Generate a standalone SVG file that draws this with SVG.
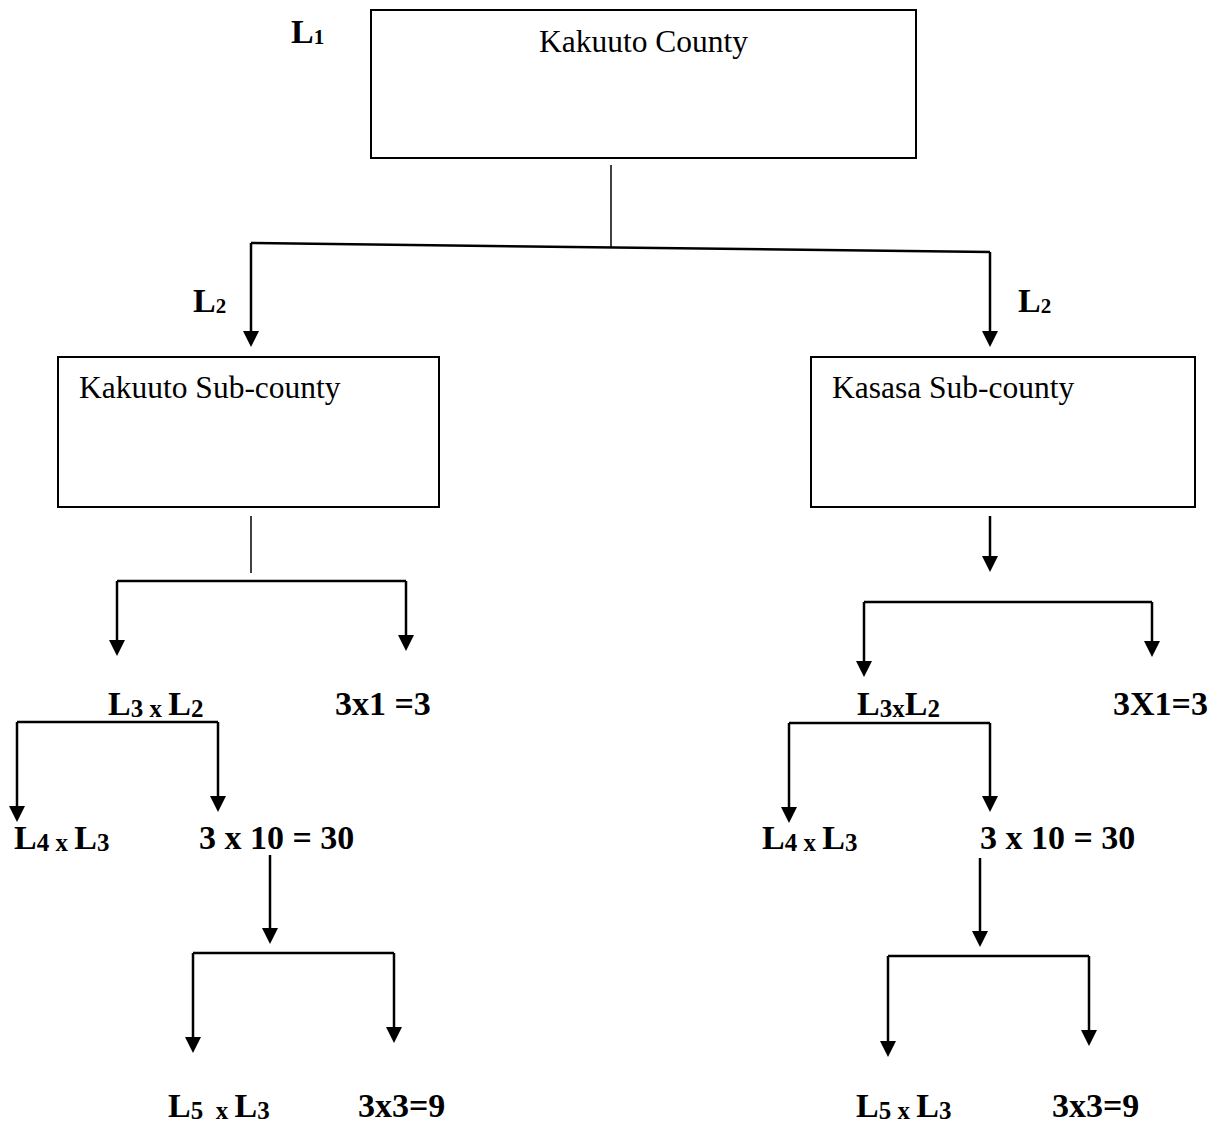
<svg xmlns="http://www.w3.org/2000/svg" width="1218" height="1127" viewBox="0 0 1218 1127">
<style>
text{font-family:"Liberation Serif","Times New Roman",serif;fill:#000;white-space:pre}
.r{font-size:31.5px}
.b{font-size:34px;font-weight:bold}
.s{font-size:25px}
.t{font-size:21px}
.box{fill:#fff;stroke:#000;stroke-width:2}
.ln{fill:none;stroke:#000;stroke-width:2.5}
.thin{fill:none;stroke:#000;stroke-width:1.5}
.ar{fill:none;stroke:#000;stroke-width:2.5;marker-end:url(#ah)}
</style>
<defs>
<marker id="ah" viewBox="0 0 16 16" refX="5" refY="8" markerWidth="16" markerHeight="16" markerUnits="userSpaceOnUse" orient="auto">
<path d="M0,0 L16,8 L0,16 Z" fill="#000"/>
</marker>
</defs>
<g id="connectors">
<path class="thin" d="M611,165 L611,247"/>
<path class="ln" d="M251,243 L990,252"/>
<path class="ar" d="M251,243 L251,336"/>
<path class="ar" d="M990,252 L990,336"/>
<path class="thin" d="M251,516 L251,573"/>
<path class="ln" d="M117,581 L406,581"/>
<path class="ar" d="M117,581 L117,645"/>
<path class="ar" d="M406,581 L406,640"/>
<path class="ln" d="M17,722 L218,722"/>
<path class="ar" d="M17,722 L17,811"/>
<path class="ar" d="M218,722 L218,801"/>
<path class="ar" d="M270,855 L270,933"/>
<path class="ln" d="M193,953 L394,953"/>
<path class="ar" d="M193,953 L193,1042"/>
<path class="ar" d="M394,953 L394,1032"/>
<path class="ar" d="M990,516 L990,561"/>
<path class="ln" d="M864,602 L1152,602"/>
<path class="ar" d="M864,602 L864,666"/>
<path class="ar" d="M1152,602 L1152,646"/>
<path class="ln" d="M789,723 L990,723"/>
<path class="ar" d="M789,723 L789,812"/>
<path class="ar" d="M990,723 L990,801"/>
<path class="ar" d="M980,858 L980,936"/>
<path class="ln" d="M888,956 L1089,956"/>
<path class="ar" d="M888,956 L888,1046"/>
<path class="ar" d="M1089,956 L1089,1035"/>
</g>
<g id="label-L1"><text class="b" x="291" y="43">L<tspan class="t" y="44">1</tspan></text></g>
<g id="node-county">
<rect class="box" x="371" y="10" width="545" height="148"/>
<text class="r" x="539" y="52">Kakuuto County</text>
</g>
<g id="label-L2-left"><text class="b" x="193" y="312">L<tspan class="t" y="313">2</tspan></text></g>
<g id="label-L2-right"><text class="b" x="1018" y="312">L<tspan class="t" y="313">2</tspan></text></g>
<g id="node-kakuuto-sub">
<rect class="box" x="58" y="357" width="381" height="150"/>
<text class="r" x="79" y="398">Kakuuto Sub-county</text>
</g>
<g id="node-kasasa-sub">
<rect class="box" x="811" y="357" width="384" height="150"/>
<text class="r" x="832" y="398">Kasasa Sub-county</text>
</g>
<g id="left-L3L2"><text class="b" x="108" y="715">L<tspan class="s" y="717">3 x </tspan><tspan y="715">L</tspan><tspan class="s" y="717">2</tspan></text></g>
<g id="left-3x1"><text class="b" x="335" y="715">3x1 =3</text></g>
<g id="left-L4L3"><text class="b" x="14" y="849">L<tspan class="s" y="851">4 x </tspan><tspan y="849">L</tspan><tspan class="s" y="851">3</tspan></text></g>
<g id="left-3x10"><text class="b" x="199" y="849">3 x 10 = 30</text></g>
<g id="left-L5L3"><text class="b" x="168" y="1117">L<tspan class="s" y="1119">5  x </tspan><tspan y="1117">L</tspan><tspan class="s" y="1119">3</tspan></text></g>
<g id="left-3x3"><text class="b" x="358" y="1117">3x3=9</text></g>
<g id="right-L3L2"><text class="b" x="857" y="715">L<tspan class="s" y="717">3x</tspan><tspan y="715">L</tspan><tspan class="s" y="717">2</tspan></text></g>
<g id="right-3X1"><text class="b" x="1113" y="715">3X1=3</text></g>
<g id="right-L4L3"><text class="b" x="762" y="849">L<tspan class="s" y="851">4 x </tspan><tspan y="849">L</tspan><tspan class="s" y="851">3</tspan></text></g>
<g id="right-3x10"><text class="b" x="980" y="849">3 x 10 = 30</text></g>
<g id="right-L5L3"><text class="b" x="856" y="1117">L<tspan class="s" y="1119">5 x </tspan><tspan y="1117">L</tspan><tspan class="s" y="1119">3</tspan></text></g>
<g id="right-3x3"><text class="b" x="1052" y="1117">3x3=9</text></g>
</svg>
